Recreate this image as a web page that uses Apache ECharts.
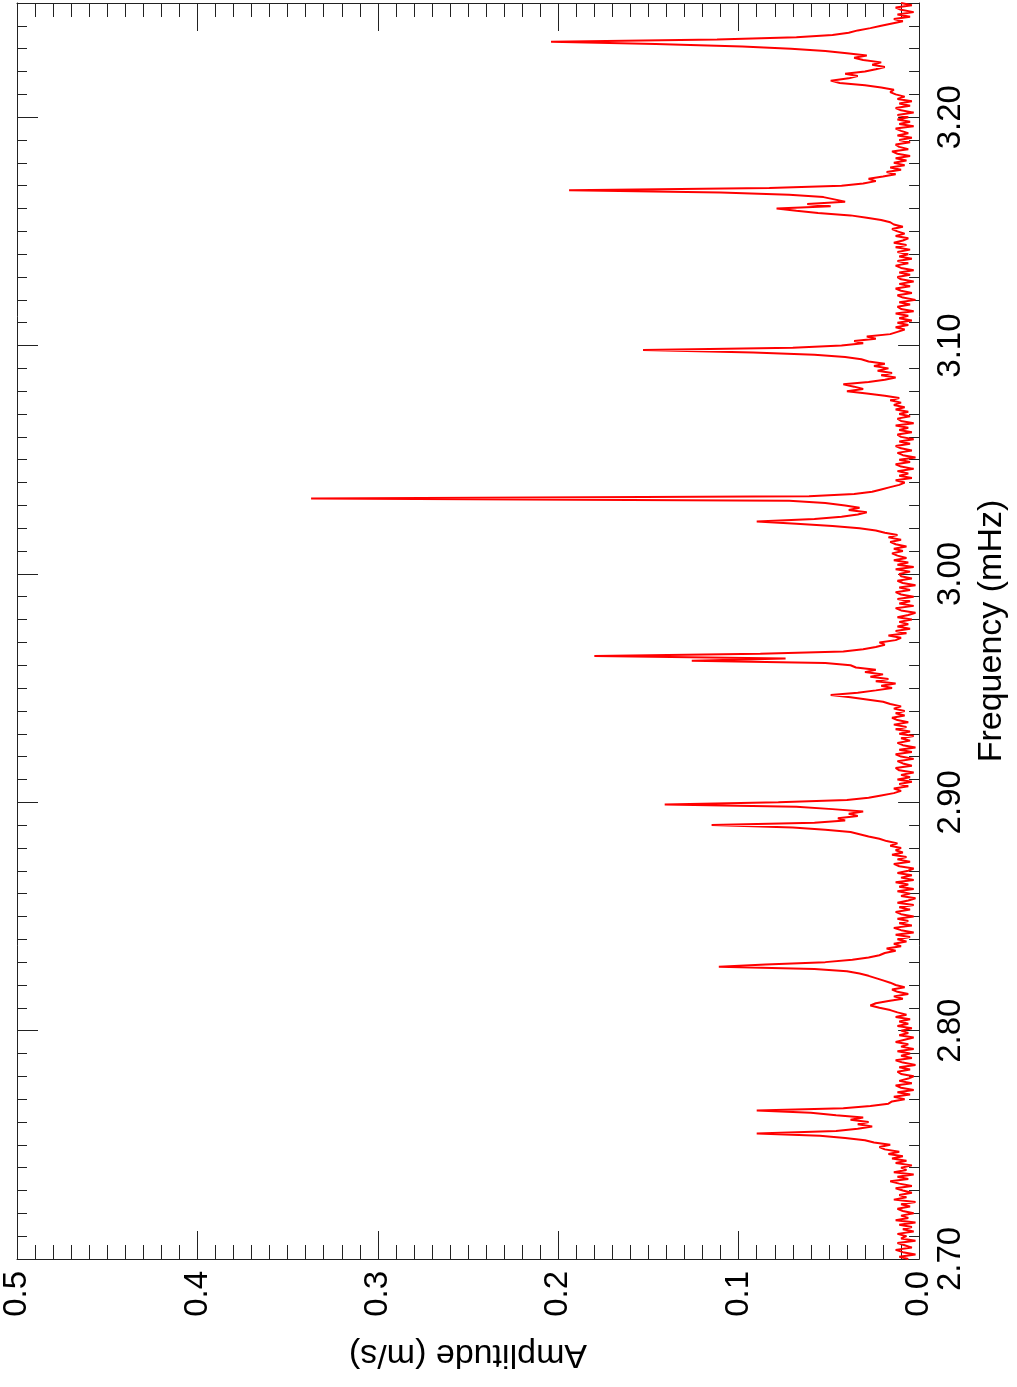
<!DOCTYPE html>
<html>
<head>
<meta charset="utf-8">
<script src="https://cdn.jsdelivr.net/npm/echarts@6/dist/echarts.min.js"></script>
<style>
html,body{margin:0;padding:0;background:#fff;}
#chart{width:1017px;height:1387px;}
</style>
</head>
<body>
<div id="chart"></div>
<script>
// Frequency grid (mHz): uniform sampling, 0.001 mHz step from 2.700
const freqStart = 2.700;
const freqStep = 0.001;
// Amplitude (m/s), one row per 0.01 mHz
const amp = [
0.006,0.011,0.002,0.009,0.013,0.004,0.008,0.012,0.002,0.010, // 2.70
0.007,0.012,0.003,0.009,0.004,0.011,0.002,0.013,0.006,0.010, // 2.71
0.003,0.009,0.012,0.005,0.010,0.002,0.014,0.007,0.011,0.004, // 2.72
0.009,0.013,0.004,0.011,0.016,0.006,0.012,0.003,0.014,0.007, // 2.73
0.010,0.004,0.013,0.007,0.015,0.009,0.017,0.011,0.019,0.022, // 2.74
0.016,0.025,0.030,0.041,0.055,0.090,0.046,0.034,0.026,0.034, // 2.75
0.028,0.038,0.031,0.046,0.060,0.090,0.042,0.027,0.017,0.015, // 2.76
0.008,0.014,0.005,0.012,0.003,0.010,0.013,0.004,0.011,0.006, // 2.77
0.003,0.010,0.012,0.005,0.011,0.002,0.009,0.013,0.004,0.010, // 2.78
0.005,0.012,0.003,0.010,0.006,0.013,0.008,0.003,0.011,0.006, // 2.79
0.010,0.004,0.012,0.006,0.011,0.005,0.013,0.007,0.012,0.016, // 2.80
0.022,0.027,0.024,0.017,0.009,0.014,0.006,0.012,0.015,0.008, // 2.81
0.013,0.016,0.020,0.024,0.028,0.033,0.040,0.058,0.111,0.085, // 2.82
0.052,0.037,0.028,0.022,0.019,0.013,0.018,0.010,0.014,0.007, // 2.83
0.012,0.005,0.013,0.003,0.010,0.014,0.004,0.011,0.006,0.012, // 2.84
0.003,0.010,0.013,0.005,0.011,0.003,0.012,0.006,0.002,0.010, // 2.85
0.005,0.012,0.003,0.011,0.006,0.013,0.003,0.010,0.004,0.012, // 2.86
0.006,0.003,0.011,0.014,0.005,0.012,0.007,0.015,0.009,0.013, // 2.87
0.010,0.016,0.012,0.018,0.022,0.028,0.033,0.038,0.052,0.070, // 2.88
0.115,0.058,0.041,0.045,0.034,0.039,0.031,0.048,0.068,0.141, // 2.89
0.078,0.040,0.028,0.021,0.014,0.010,0.014,0.006,0.011,0.004, // 2.90
0.012,0.005,0.010,0.003,0.011,0.013,0.004,0.009,0.012,0.003, // 2.91
0.010,0.013,0.004,0.011,0.002,0.009,0.012,0.005,0.010,0.003, // 2.92
0.011,0.005,0.013,0.007,0.014,0.006,0.012,0.015,0.008,0.013, // 2.93
0.008,0.014,0.010,0.016,0.020,0.029,0.038,0.049,0.034,0.024, // 2.94
0.015,0.021,0.013,0.024,0.017,0.027,0.020,0.030,0.024,0.035, // 2.95
0.038,0.052,0.126,0.074,0.180,0.088,0.042,0.031,0.024,0.019, // 2.96
0.022,0.013,0.010,0.017,0.007,0.013,0.005,0.012,0.006,0.011, // 2.97
0.004,0.012,0.006,0.002,0.010,0.013,0.003,0.011,0.005,0.012, // 2.98
0.003,0.010,0.013,0.005,0.011,0.002,0.009,0.012,0.004,0.010, // 2.99
0.011,0.005,0.013,0.003,0.012,0.006,0.014,0.007,0.012,0.015, // 3.00
0.009,0.014,0.007,0.013,0.016,0.010,0.017,0.012,0.019,0.024, // 3.01
0.033,0.048,0.068,0.090,0.058,0.043,0.034,0.029,0.039,0.033, // 3.02
0.041,0.052,0.072,0.337,0.061,0.036,0.026,0.021,0.016,0.011, // 3.03
0.008,0.013,0.004,0.011,0.006,0.012,0.003,0.010,0.013,0.005, // 3.04
0.011,0.002,0.009,0.012,0.004,0.010,0.013,0.005,0.011,0.003, // 3.05
0.010,0.012,0.004,0.011,0.006,0.013,0.003,0.010,0.012,0.005, // 3.06
0.011,0.006,0.013,0.008,0.014,0.010,0.016,0.011,0.019,0.029, // 3.07
0.040,0.031,0.036,0.042,0.028,0.019,0.013,0.021,0.015,0.023, // 3.08
0.017,0.025,0.019,0.028,0.032,0.041,0.058,0.092,0.153,0.070, // 3.09
0.043,0.031,0.036,0.024,0.029,0.016,0.012,0.008,0.013,0.006, // 3.10
0.012,0.004,0.011,0.006,0.013,0.003,0.010,0.012,0.005,0.011, // 3.11
0.002,0.009,0.012,0.004,0.010,0.013,0.005,0.011,0.003,0.010, // 3.12
0.012,0.005,0.011,0.003,0.010,0.013,0.006,0.012,0.004,0.011, // 3.13
0.006,0.012,0.005,0.013,0.007,0.014,0.009,0.006,0.013,0.008, // 3.14
0.012,0.015,0.009,0.014,0.016,0.021,0.029,0.038,0.056,0.068, // 3.15
0.079,0.049,0.062,0.041,0.047,0.053,0.072,0.110,0.194,0.083, // 3.16
0.043,0.031,0.024,0.028,0.020,0.013,0.018,0.010,0.016,0.008, // 3.17
0.014,0.007,0.013,0.005,0.012,0.015,0.006,0.011,0.013,0.005, // 3.18
0.011,0.004,0.012,0.006,0.010,0.013,0.003,0.011,0.005,0.012, // 3.19
0.006,0.012,0.003,0.010,0.013,0.005,0.011,0.004,0.012,0.008, // 3.20
0.013,0.016,0.014,0.021,0.030,0.044,0.049,0.039,0.034,0.041, // 3.21
0.030,0.024,0.019,0.026,0.021,0.031,0.036,0.029,0.040,0.052, // 3.22
0.071,0.098,0.146,0.204,0.112,0.068,0.048,0.039,0.034,0.027, // 3.23
0.021,0.015,0.009,0.014,0.005,0.012,0.003,0.010,0.013,0.004, // 3.24
0.010                                                        // 3.25
];
const ampTicks = ['0.0','0.1','0.2','0.3','0.4','0.5'];
const freqTicks = ['2.70','2.80','2.90','3.00','3.10','3.20'];

const FONT = "'Liberation Sans', Arial, Helvetica, sans-serif";
const AX = '#222';
const seriesData = amp.map((a, i) => [a, +(freqStart + i * freqStep).toFixed(3)]);

function xAx(pos, withLabels) {
  return {
    type: 'value', position: pos, inverse: true, min: 0, max: 0.5, interval: 0.1,
    axisLine: { show: true, onZero: false, lineStyle: { color: AX, width: 1 } },
    axisTick: { show: true, inside: true, length: 28, lineStyle: { color: AX, width: 1 } },
    minorTick: { show: true, splitNumber: 10, length: 14, lineStyle: { color: AX, width: 1 } },
    splitLine: { show: false },
    axisLabel: withLabels ? {
      show: true, rotate: 90, margin: 12, fontSize: 33, color: '#000', fontFamily: FONT,
      formatter: v => ampTicks[Math.round(v * 10)]
    } : { show: false },
    name: withLabels ? 'Amplitude (m/s)' : '',
    nameLocation: 'middle', nameRotate: 180, nameGap: 78,
    nameTextStyle: { fontSize: 34, color: '#000', fontFamily: FONT }
  };
}
function yAx(pos, interval, tickLen, withLabels, showLine) {
  return {
    type: 'value', position: pos, min: 2.7, max: 3.25, interval: interval,
    axisLine: { show: showLine, onZero: false, lineStyle: { color: AX, width: 1 } },
    axisTick: { show: true, inside: true, length: tickLen, lineStyle: { color: AX, width: 1 } },
    splitLine: { show: false },
    axisLabel: withLabels ? {
      show: true, rotate: 90, margin: 15, fontSize: 33, color: '#000', fontFamily: FONT,
      showMaxLabel: false,
      formatter: v => { const k = Math.round((v - 2.7) * 10); return (Math.abs(v - (2.7 + k * 0.1)) < 1e-6 && freqTicks[k]) ? freqTicks[k] : ''; }
    } : { show: false },
    name: withLabels ? 'Frequency (mHz)' : '',
    nameLocation: 'middle', nameRotate: 90, nameGap: 54,
    nameTextStyle: { fontSize: 34, color: '#000', fontFamily: FONT }
  };
}

const chart = echarts.init(document.getElementById('chart'), null, { renderer: 'canvas' });
chart.setOption({
  backgroundColor: '#ffffff',
  animation: false,
  grid: { left: 17, right: 96, top: 3, bottom: 128, containLabel: false },
  xAxis: [xAx('bottom', true), xAx('top', false)],
  yAxis: [
    yAx('right', 0.1, 21, true, true),
    yAx('right', 0.01, 10, false, false),
    yAx('left', 0.1, 21, false, true),
    yAx('left', 0.01, 10, false, false)
  ],
  series: [{
    type: 'line',
    xAxisIndex: 0, yAxisIndex: 0,
    data: seriesData,
    showSymbol: false,
    symbol: 'none',
    lineStyle: { color: '#ff0000', width: 2 },
    z: 1
  }]
});
</script>
</body>
</html>
